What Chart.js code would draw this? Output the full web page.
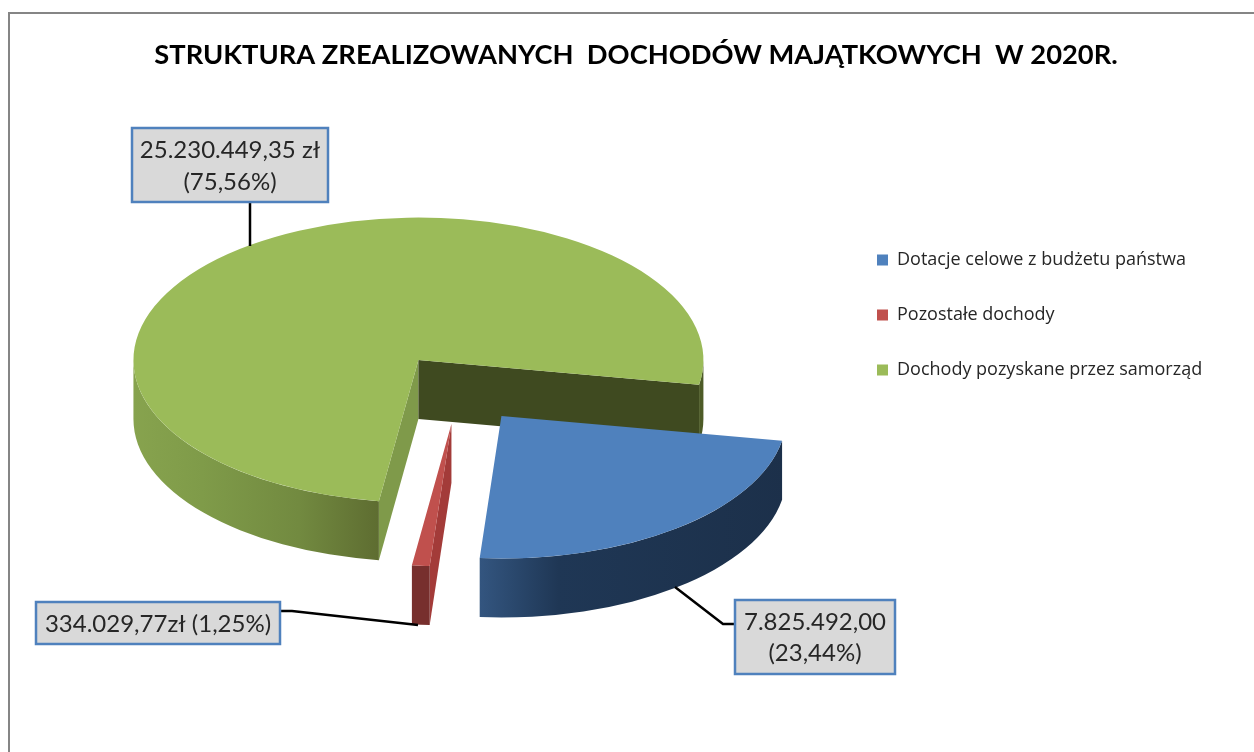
<!DOCTYPE html>
<html lang="pl">
<head>
  <meta charset="UTF-8" />
  <title>Struktura zrealizowanych dochodów majątkowych</title>
  <script src="https://cdn.jsdelivr.net/npm/chart.js"></script>
  <style>
    html, body { margin: 0; background: #fff; overflow: hidden; }
    #wrap { position: relative; width: 1254px; height: 752px; }
    #frame { position: absolute; left: 8px; top: 12px; right: 0; bottom: 0; border-top: 2px solid #858585; border-left: 2px solid #858585; }
    canvas { position: absolute; left: 0; top: 0; }
  </style>
</head>
<body>
  <div id="wrap">
    <div id="frame"></div>
    <canvas id="pie" width="1254" height="752"></canvas>
  </div>

  <script>
    const chartTitle = "STRUKTURA ZREALIZOWANYCH  DOCHODÓW MAJĄTKOWYCH  W 2020R.";
    const categories = ["Dotacje celowe z budżetu państwa", "Pozostałe dochody", "Dochody pozyskane przez samorząd"];
    const amounts = [7825492.00, 334029.77, 25230449.35];
    const calloutTexts = [
      ["7.825.492,00", "(23,44%)"],
      ["334.029,77zł (1,25%)"],
      ["25.230.449,35 zł", "(75,56%)"]
    ];

    const topColors = ["#4f81bd", "#c0504d", "#9bbb59"];
    const SQUASH = 0.5;
    const DEPTH = 59;
    // przesunięcie wyciętych kawałków (przed spłaszczeniem)
    const shiftX = [83, 33, 0];
    const shiftY = [112, 128, 0];
    const rimStops = [
      [[0, "#1c304a"], [0.463, "#33557f"], [0.6, "#1f3755"], [1, "#1c304a"]],
      [[0, "#772f2d"], [1, "#772f2d"]],
      [[0, "#87a34e"], [0.12, "#7f9b49"], [0.29, "#728a40"], [0.43, "#5e6d31"], [1, "#4d5b27"]]
    ];
    const startWall = ["#1c304a", "#a33b39", "#7f9a4a"];
    const endWall = ["#1c304a", "#772f2d", "#3f4a20"];

    const callouts = [
      { box: [735, 600, 160, 74], lineY: [622, 653], leader: [[735, 624], [723, 624], [675, 587]] },
      { box: [36, 602, 244, 42], lineY: [624], leader: [[280, 611], [292, 611], [418, 625]] },
      { box: [132, 128, 196, 74], lineY: [150, 182], leader: [[250, 202], [250, 246]] }
    ];

    function drawSide(ctx, chart, arc, i) {
      const cy0 = (chart.chartArea.top + chart.chartArea.bottom) / 2;
      const sx = arc.x;
      const sy = cy0 + (arc.y - cy0) * SQUASH;
      const r = arc.outerRadius;
      const s = arc.startAngle, e = arc.endAngle;

      function wall(angle, color) {
        const qx = sx + Math.cos(angle) * r;
        const qy = sy + Math.sin(angle) * r * SQUASH;
        ctx.fillStyle = color;
        ctx.beginPath();
        ctx.moveTo(sx, sy);
        ctx.lineTo(qx, qy);
        ctx.lineTo(qx, qy + DEPTH);
        ctx.lineTo(sx, sy + DEPTH);
        ctx.closePath();
        ctx.fill();
      }
      if (Math.cos(s) < 0) wall(s, startWall[i]);
      if (Math.cos(e) > 0) wall(e, endWall[i]);

      const grad = ctx.createLinearGradient(sx - r, 0, sx + r, 0);
      rimStops[i].forEach(st => grad.addColorStop(st[0], st[1]));
      ctx.fillStyle = grad;
      [0, Math.PI * 2].forEach(base => {
        const lo = Math.max(s, base);
        const hi = Math.min(e, base + Math.PI);
        if (hi <= lo) return;
        ctx.beginPath();
        ctx.ellipse(sx, sy, r, r * SQUASH, 0, lo, hi);
        ctx.ellipse(sx, sy + DEPTH, r, r * SQUASH, 0, hi, lo, true);
        ctx.closePath();
        ctx.fill();
      });
    }

    const pie3d = {
      id: "pie3d",
      afterLayout(chart) {
        chart.titleBlock.left = 0;
        chart.titleBlock.right = 1272;
        const lg = chart.legend;
        const pad = lg.options.labels.padding;
        lg.left = 877 - pad;
        lg.right = lg.left + lg.width;
        lg.top = 251 - pad;
        lg.bottom = lg.top + lg.height;
      },
      afterDatasetsUpdate(chart) {
        chart.getDatasetMeta(0).data.forEach((arc, i) => {
          arc.x += shiftX[i];
          arc.y += shiftY[i];
        });
      },
      beforeDatasetDraw(chart) {
        const ctx = chart.ctx;
        const arcs = chart.getDatasetMeta(0).data;
        [2, 1, 0].forEach(i => drawSide(ctx, chart, arcs[i], i));
        const cy0 = (chart.chartArea.top + chart.chartArea.bottom) / 2;
        ctx.save();
        ctx.translate(0, cy0);
        ctx.scale(1, SQUASH);
        ctx.translate(0, -cy0);
      },
      afterDatasetDraw(chart) {
        chart.ctx.restore();
      },
      afterDatasetsDraw(chart) {
        const ctx = chart.ctx;
        callouts.forEach((c, i) => {
          ctx.strokeStyle = "#000";
          ctx.lineWidth = 2.5;
          ctx.beginPath();
          c.leader.forEach((p, k) => k ? ctx.lineTo(p[0], p[1]) : ctx.moveTo(p[0], p[1]));
          ctx.stroke();
          ctx.fillStyle = "#d9d9d9";
          ctx.fillRect(c.box[0], c.box[1], c.box[2], c.box[3]);
          ctx.strokeStyle = "#4f81bd";
          ctx.lineWidth = 2.5;
          ctx.strokeRect(c.box[0], c.box[1], c.box[2], c.box[3]);
          ctx.fillStyle = "#262626";
          ctx.font = "24px Lato";
          ctx.textAlign = "center";
          ctx.textBaseline = "middle";
          calloutTexts[i].forEach((t, k) => ctx.fillText(t, c.box[0] + c.box[2] / 2, c.lineY[k]));
        });
      }
    };

    new Chart(document.getElementById("pie"), {
      type: "pie",
      data: {
        labels: categories,
        datasets: [{
          data: amounts,
          backgroundColor: topColors,
          borderWidth: 0,
          clip: 2000
        }]
      },
      options: {
        responsive: false,
        animation: false,
        events: [],
        rotation: 100,
        layout: { padding: { left: 133, top: 40, right: 178, bottom: 107 } },
        plugins: {
          tooltip: { enabled: false },
          title: {
            display: true,
            text: chartTitle,
            color: "#000",
            font: { family: "Lato", size: 27.3, weight: "bold", lineHeight: 1.1 },
            padding: { top: 0, bottom: 5 }
          },
          legend: {
            position: "right",
            align: "start",
            labels: {
              boxWidth: 11,
              boxHeight: 11,
              padding: 37,
              color: "#262626",
              font: { family: "Open Sans", size: 18 }
            }
          }
        }
      },
      plugins: [pie3d]
    });
  </script>
</body>
</html>
